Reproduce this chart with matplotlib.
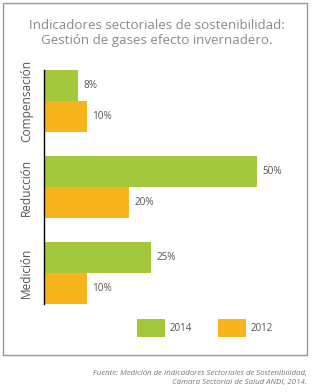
import matplotlib
matplotlib.use("Agg")
import matplotlib.pyplot as plt
from matplotlib.patches import Rectangle
import numpy as np

plt.rcParams['font.family'] = ['Open Sans', 'DejaVu Sans']

# data
categories = ["Compensación", "Reducción", "Medición"]
values_2014 = [8, 50, 25]
values_2012 = [10, 20, 10]
series_labels = ["2014", "2012"]
title = "Indicadores sectoriales de sostenibilidad:\nGestión de gases efecto invernadero."
source = ("Fuente: Medición de Indicadores Sectoriales de Sostenibilidad,\n"
          "Cámara Sectorial de Salud ANDI, 2014.")

green = "#a3c83c"
orange = "#f8b41c"
text_gray = "#555555"

fig = plt.figure(figsize=(3.13, 3.92), dpi=100)
fig.patch.set_facecolor("white")

# border frame
fig.add_artist(Rectangle((3 / 313, 1 - 355 / 392), 304 / 313, 352 / 392,
                         transform=fig.transFigure, fill=False,
                         edgecolor="#8c9ba8", linewidth=1.0))

ax = fig.add_axes([44 / 313, 1 - 304 / 392, 256 / 313, 234 / 392])

h = 0.3625
y = np.arange(len(categories))
ax.barh(y - h / 2, values_2014, height=h, color=green, label=series_labels[0])
ax.barh(y + h / 2, values_2012, height=h, color=orange, label=series_labels[1])

for yi, v in zip(y - h / 2, values_2014):
    ax.text(v + 1.3, yi, f"{v}%", va="center", ha="left", fontsize=7.2, color=text_gray)
for yi, v in zip(y + h / 2, values_2012):
    ax.text(v + 1.3, yi, f"{v}%", va="center", ha="left", fontsize=7.2, color=text_gray)

ax.set_xlim(0, 60)
ax.set_ylim(len(categories) - 1 + h, -h)
ax.set_yticks(y)
ax.set_yticklabels(categories, rotation=90, va="center", fontsize=8.6, color=text_gray)
ax.tick_params(axis="y", length=0, pad=8)
ax.set_xticks([])
for s in ["top", "right", "bottom"]:
    ax.spines[s].set_visible(False)
ax.spines["left"].set_color("black")
ax.spines["left"].set_linewidth(1.0)

fig.text(0.5, 1 - 33 / 392, title, ha="center", va="center", fontsize=9.6,
         color="#8a8a8a", linespacing=1.2)

leg = fig.legend(loc="center", bbox_to_anchor=(205 / 313, 1 - 328 / 392), ncol=2,
                 frameon=False, fontsize=7, handlelength=2.9, handleheight=2.6,
                 handletextpad=0.5, columnspacing=2.6)
for t in leg.get_texts():
    t.set_color(text_gray)

fig.text(307 / 313, 1 - 378 / 392, source, ha="right", va="center", fontsize=5.7,
         style="italic", color="#777777", linespacing=1.3)

fig.savefig("out.png", dpi=100)
